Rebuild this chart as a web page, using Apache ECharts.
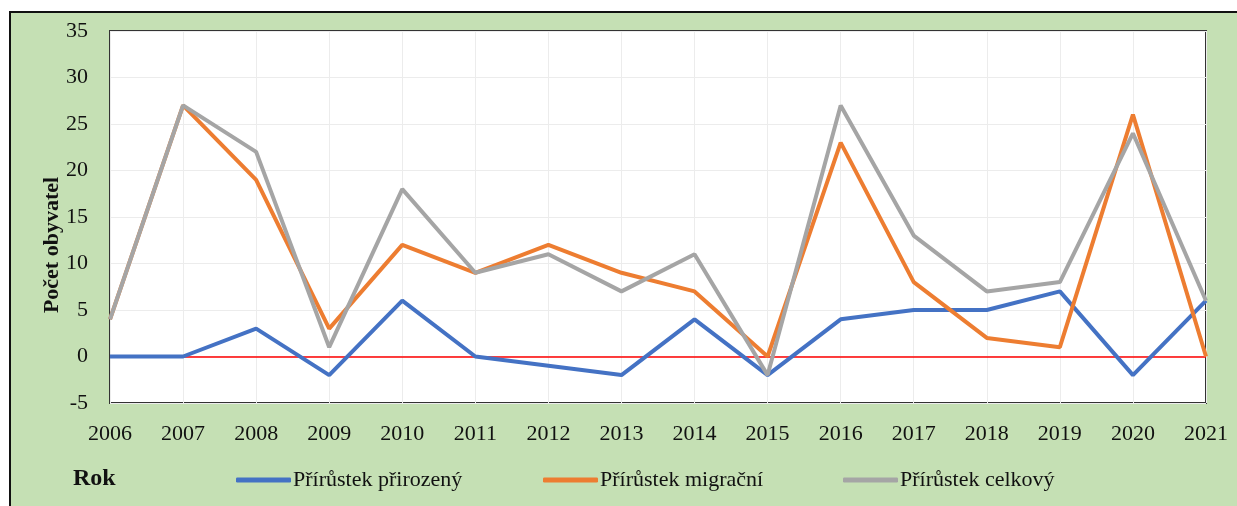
<!DOCTYPE html>
<html>
<head>
<meta charset="utf-8">
<script src="https://cdn.jsdelivr.net/npm/echarts@6/dist/echarts.min.js"></script>
<style>
  body { margin: 0; background: #fff; }
</style>
</head>
<body>
<div id="main" style="width: 1237px; height: 506px"></div>
<script>
var years = ["2006", "2007", "2008", "2009", "2010", "2011", "2012", "2013",
  "2014", "2015", "2016", "2017", "2018", "2019", "2020", "2021"];
var prirozeny = [0, 0, 3, -2, 6, 0, -1, -2, 4, -2, 4, 5, 5, 7, -2, 6];
var migracni = [4, 27, 19, 3, 12, 9, 12, 9, 7, 0, 23, 8, 2, 1, 26, 0];
var celkovy = [4, 27, 22, 1, 18, 9, 11, 7, 11, -2, 27, 13, 7, 8, 24, 6];
var names = ["Přírůstek přirozený", "Přírůstek migrační", "Přírůstek celkový"];

var font = "'Liberation Serif', 'DejaVu Serif', serif";

var chart = echarts.init(document.getElementById("main"));

function lineSeries(name, data, color) {
  return {
    name: name,
    type: "line",
    data: data,
    symbol: "none",
    lineStyle: { color: color, width: 4 },
    itemStyle: { color: color },
    z: 3,
  };
}

var series = [
  lineSeries(names[0], prirozeny, "#4472c4"),
  lineSeries(names[1], migracni, "#ed7d31"),
  lineSeries(names[2], celkovy, "#a5a5a5"),
];
// cervena nulova cara
series[0].markLine = {
  silent: true,
  symbol: "none",
  label: { show: false },
  lineStyle: { color: "#ff0000", width: 1.5, type: "solid" },
  data: [{ yAxis: 0 }],
  z: 1,
};

function legendAt(left, name) {
  return {
    left: left,
    top: 469,
    padding: 0,
    icon: "roundRect",
    itemWidth: 55,
    itemHeight: 5,
    itemGap: 0,
    textStyle: { fontFamily: font, fontSize: 22, color: "#111", padding: [0, 0, 0, -3] },
    data: [name],
  };
}

var option = {
  animation: false,
  graphic: [
    {
      type: "rect",
      shape: { x: 10, y: 12, width: 1240, height: 510 },
      style: { fill: "#c5e0b4", stroke: "#111", lineWidth: 2 },
      z: -10,
    },
    {
      type: "text",
      left: 73,
      top: 467,
      style: { text: "Rok", font: "bold 24px " + font, fill: "#111" },
    },
    {
      type: "text",
      x: 52,
      y: 245,
      rotation: Math.PI / 2,
      style: {
        text: "Počet obyvatel",
        font: "bold 22px " + font,
        fill: "#111",
        align: "center",
        verticalAlign: "middle",
      },
      z: 10,
    },
  ],
  grid: {
    show: true,
    left: 110,
    top: 31,
    right: 31,
    bottom: 103,
    backgroundColor: "#fff",
    borderColor: "#333",
    borderWidth: 2,
  },
  legend: [legendAt(236, names[0]), legendAt(543, names[1]), legendAt(843, names[2])],
  xAxis: {
    type: "category",
    boundaryGap: false,
    data: years,
    axisLine: { show: false },
    axisTick: { show: false },
    axisLabel: { margin: 20, fontFamily: font, fontSize: 22, color: "#111" },
    splitLine: { show: true, lineStyle: { color: "#ececec", width: 1 } },
  },
  yAxis: {
    type: "value",
    min: -5,
    max: 35,
    interval: 5,
    axisLine: { show: false },
    axisTick: { show: false },
    axisLabel: { margin: 22, fontFamily: font, fontSize: 22, color: "#111" },
    splitLine: { show: true, lineStyle: { color: "#ececec", width: 1 } },
  },
  series: series,
};

chart.setOption(option);
</script>
</body>
</html>
